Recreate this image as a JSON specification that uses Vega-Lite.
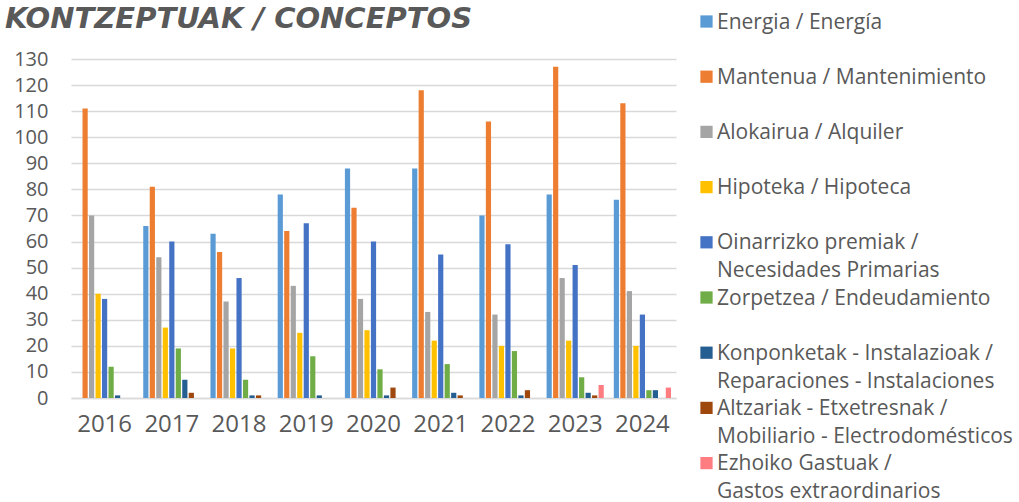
{
  "$schema": "https://vega.github.io/schema/vega-lite/v6.json",
  "autosize": "none",
  "width": 605,
  "height": 339,
  "padding": {"left": 71, "top": 59, "right": 343, "bottom": 104},
  "background": "white",
  "title": {
    "text": "KONTZEPTUAK / CONCEPTOS",
    "anchor": "start",
    "frame": "group",
    "dx": -66,
    "offset": -46,
    "baseline": "alphabetic",
    "font": "DejaVu Sans",
    "fontSize": 29,
    "fontWeight": "bold",
    "fontStyle": "italic",
    "color": "#595959"
  },
  "datasets": {
    "concepts": [
      {"k": 1, "concept": "Energia / Energía"},
      {"k": 2, "concept": "Mantenua / Mantenimiento"},
      {"k": 3, "concept": "Alokairua / Alquiler"},
      {"k": 4, "concept": "Hipoteka / Hipoteca"},
      {"k": 5, "concept": "Oinarrizko premiak /\nNecesidades Primarias"},
      {"k": 6, "concept": "Zorpetzea / Endeudamiento"},
      {"k": 7, "concept": "Konponketak - Instalazioak  /\nReparaciones -  Instalaciones"},
      {"k": 8, "concept": "Altzariak - Etxetresnak /\nMobiliario - Electrodomésticos"},
      {"k": 9, "concept": "Ezhoiko Gastuak /\nGastos extraordinarios"}
    ],
    "bars": [
      {"year": "2016", "k": 2, "v": 111},
      {"year": "2016", "k": 3, "v": 70},
      {"year": "2016", "k": 4, "v": 40},
      {"year": "2016", "k": 5, "v": 38},
      {"year": "2016", "k": 6, "v": 12},
      {"year": "2016", "k": 7, "v": 1},
      {"year": "2017", "k": 1, "v": 66},
      {"year": "2017", "k": 2, "v": 81},
      {"year": "2017", "k": 3, "v": 54},
      {"year": "2017", "k": 4, "v": 27},
      {"year": "2017", "k": 5, "v": 60},
      {"year": "2017", "k": 6, "v": 19},
      {"year": "2017", "k": 7, "v": 7},
      {"year": "2017", "k": 8, "v": 2},
      {"year": "2018", "k": 1, "v": 63},
      {"year": "2018", "k": 2, "v": 56},
      {"year": "2018", "k": 3, "v": 37},
      {"year": "2018", "k": 4, "v": 19},
      {"year": "2018", "k": 5, "v": 46},
      {"year": "2018", "k": 6, "v": 7},
      {"year": "2018", "k": 7, "v": 1},
      {"year": "2018", "k": 8, "v": 1},
      {"year": "2019", "k": 1, "v": 78},
      {"year": "2019", "k": 2, "v": 64},
      {"year": "2019", "k": 3, "v": 43},
      {"year": "2019", "k": 4, "v": 25},
      {"year": "2019", "k": 5, "v": 67},
      {"year": "2019", "k": 6, "v": 16},
      {"year": "2019", "k": 7, "v": 1},
      {"year": "2020", "k": 1, "v": 88},
      {"year": "2020", "k": 2, "v": 73},
      {"year": "2020", "k": 3, "v": 38},
      {"year": "2020", "k": 4, "v": 26},
      {"year": "2020", "k": 5, "v": 60},
      {"year": "2020", "k": 6, "v": 11},
      {"year": "2020", "k": 7, "v": 1},
      {"year": "2020", "k": 8, "v": 4},
      {"year": "2021", "k": 1, "v": 88},
      {"year": "2021", "k": 2, "v": 118},
      {"year": "2021", "k": 3, "v": 33},
      {"year": "2021", "k": 4, "v": 22},
      {"year": "2021", "k": 5, "v": 55},
      {"year": "2021", "k": 6, "v": 13},
      {"year": "2021", "k": 7, "v": 2},
      {"year": "2021", "k": 8, "v": 1},
      {"year": "2022", "k": 1, "v": 70},
      {"year": "2022", "k": 2, "v": 106},
      {"year": "2022", "k": 3, "v": 32},
      {"year": "2022", "k": 4, "v": 20},
      {"year": "2022", "k": 5, "v": 59},
      {"year": "2022", "k": 6, "v": 18},
      {"year": "2022", "k": 7, "v": 1},
      {"year": "2022", "k": 8, "v": 3},
      {"year": "2023", "k": 1, "v": 78},
      {"year": "2023", "k": 2, "v": 127},
      {"year": "2023", "k": 3, "v": 46},
      {"year": "2023", "k": 4, "v": 22},
      {"year": "2023", "k": 5, "v": 51},
      {"year": "2023", "k": 6, "v": 8},
      {"year": "2023", "k": 7, "v": 2},
      {"year": "2023", "k": 8, "v": 1},
      {"year": "2023", "k": 9, "v": 5},
      {"year": "2024", "k": 1, "v": 76},
      {"year": "2024", "k": 2, "v": 113},
      {"year": "2024", "k": 3, "v": 41},
      {"year": "2024", "k": 4, "v": 20},
      {"year": "2024", "k": 5, "v": 32},
      {"year": "2024", "k": 6, "v": 3},
      {"year": "2024", "k": 7, "v": 3},
      {"year": "2024", "k": 9, "v": 4}
    ]
  },
  "data": {"name": "bars"},
  "transform": [
    {"lookup": "k", "from": {"data": {"name": "concepts"}, "key": "k", "fields": ["concept"]}}
  ],
  "mark": {"type": "bar"},
  "encoding": {
    "x": {
      "field": "year",
      "type": "nominal",
      "scale": {"domain": ["2016", "2017", "2018", "2019", "2020", "2021", "2022", "2023", "2024"], "paddingInner": 0.13, "paddingOuter": 0.065},
      "axis": {
        "title": null,
        "labelAngle": 0,
        "labelFont": "Open Sans",
        "labelFontSize": 24,
        "labelColor": "#595959",
        "ticks": false,
        "domainColor": "#d9d9d9",
        "domainWidth": 1.5,
        "labelPadding": 14
      }
    },
    "xOffset": {
      "field": "k",
      "type": "nominal",
      "scale": {"domain": [1, 2, 3, 4, 5, 6, 7, 8, 9], "paddingInner": 0.2, "paddingOuter": 0.1}
    },
    "y": {
      "field": "v",
      "type": "quantitative",
      "scale": {"domain": [0, 130], "nice": false},
      "axis": {
        "title": null,
        "values": [0, 10, 20, 30, 40, 50, 60, 70, 80, 90, 100, 110, 120, 130],
        "domain": false,
        "ticks": false,
        "labelFont": "Open Sans",
        "labelFontSize": 20,
        "labelColor": "#595959",
        "labelPadding": 23,
        "gridColor": "#d9d9d9",
        "gridWidth": 1.5
      }
    },
    "color": {
      "field": "concept",
      "type": "nominal",
      "scale": {
        "domain": [
          "Energia / Energía",
          "Mantenua / Mantenimiento",
          "Alokairua / Alquiler",
          "Hipoteka / Hipoteca",
          "Oinarrizko premiak /\nNecesidades Primarias",
          "Zorpetzea / Endeudamiento",
          "Konponketak - Instalazioak  /\nReparaciones -  Instalaciones",
          "Altzariak - Etxetresnak /\nMobiliario - Electrodomésticos",
          "Ezhoiko Gastuak /\nGastos extraordinarios"
        ],
        "range": ["#5B9BD5", "#ED7D31", "#A5A5A5", "#FFC000", "#4472C4", "#70AD47", "#255E91", "#9E480E", "#FF7C80"]
      },
      "legend": {
        "orient": "none",
        "legendX": 625,
        "legendY": -48,
        "title": null,
        "direction": "vertical",
        "columns": 1,
        "padding": 0,
        "symbolType": "square",
        "symbolSize": 150,
        "symbolStrokeWidth": 0,
        "labelFont": "Open Sans",
        "labelFontSize": 21,
        "labelColor": "#595959",
        "labelOffset": 0,
        "labelLimit": 400,
        "labelBaseline": "alphabetic",
        "rowPadding": 5.2,
        "labelExpr": "length(split(datum.label, '\\n')) > 1 ? split(datum.label, '\\n') : [datum.label, '']",
        "encode": {"labels": {"update": {"lineHeight": {"value": 28}, "dy": {"value": 7}}}}
      }
    }
  },
  "config": {"view": {"stroke": null}}
}
